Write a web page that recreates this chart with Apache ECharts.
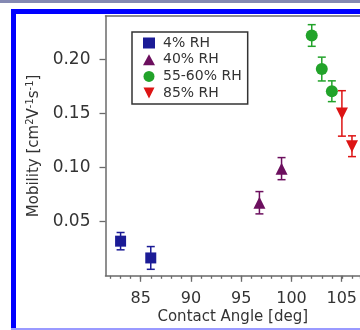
<!DOCTYPE html>
<html>
<head>
<meta charset="utf-8">
<script src="https://cdn.jsdelivr.net/npm/echarts@6/dist/echarts.min.js"></script>
<style>
html, body { margin: 0; padding: 0; background: #fff; }
#chart { width: 360px; height: 330px; }
</style>
</head>
<body>
<div id="chart"></div>
<script>
// 各湿度下的数据：接触角、迁移率、误差
const names = ['4% RH', '40% RH', '55-60% RH', '85% RH']
const angle4 = [83, 86]
const mob4 = [0.032, 0.0165]
const err4 = [0.008, 0.0105]
const angle40 = [96.8, 99]
const mob40 = [0.0675, 0.099]
const err40 = [0.0103, 0.0102]
const angle55 = [102, 103, 104]
const mob55 = [0.222, 0.191, 0.1705]
const err55 = [0.010, 0.011, 0.0096]
const angle85 = [105, 106]
const mob85 = [0.150, 0.1197]
const err85 = [0.021, 0.0096]
// 刻度
const xTicks = [85, 90, 95, 100, 105]
const yTicks = [0.05, 0.10, 0.15, 0.20]

const font = 'DejaVu Sans'
const axisGray = '#6a6a6a'
const textGray = '#333'

// 坐标范围 (主绘图区一直延伸到画布右边)
const gridLeft = 105.5
const pxPerDeg = 10.06
const xMin = 81.5
const xMax = xMin + (360 - gridLeft) / pxPerDeg
const gridTop = 16
const gridBottom = 54.2
const yMin = 0
const yMax = 0.24
const pxPerUnit = (330 - gridTop - gridBottom) / (yMax - yMin)

function pack(xs, ys) {
    return xs.map((x, i) => [x, ys[i]])
}
function packErr(xs, ys, es) {
    return xs.map((x, i) => [x, ys[i], es[i]])
}

// 误差棒
function errorSeries(name, data, color) {
    return {
        type: 'custom',
        name: name + ' err',
        xAxisIndex: 0,
        yAxisIndex: 0,
        data: data,
        z: 1,
        renderItem: (params, api) => {
            const x = api.value(0)
            const y = api.value(1)
            const e = api.value(2)
            const top = api.coord([x, y + e])
            const bot = api.coord([x, y - e])
            const w = 4
            const style = { stroke: color, lineWidth: 1.5 }
            return {
                type: 'group',
                children: [
                    { type: 'line', shape: { x1: top[0], y1: top[1], x2: bot[0], y2: bot[1] }, style: style },
                    { type: 'line', shape: { x1: top[0] - w, y1: top[1], x2: top[0] + w, y2: top[1] }, style: style },
                    { type: 'line', shape: { x1: bot[0] - w, y1: bot[1], x2: bot[0] + w, y2: bot[1] }, style: style }
                ]
            }
        }
    }
}

function pointSeries(name, data, color, symbol, size) {
    return {
        type: 'scatter',
        name: name,
        xAxisIndex: 0,
        yAxisIndex: 0,
        data: data,
        symbol: symbol,
        symbolSize: size,
        itemStyle: { color: color, opacity: 1 },
        z: 2
    }
}

const colors = ['#1b1b96', '#6c0f5e', '#22a32a', '#dd1414']
const downTri = 'path://M0,0L10,0L5,10Z'
const frameLine = { show: true, lineStyle: { color: axisGray, width: 1.5 } }

const chart = echarts.init(document.getElementById('chart'))
const option = {
    animation: false,
    backgroundColor: '#fff',
    graphic: [
        { type: 'rect', shape: { x: 0, y: 0, width: 360, height: 3 }, style: { fill: '#8489b3' } },
        { type: 'rect', shape: { x: 11, y: 9, width: 5, height: 321 }, style: { fill: '#0000ff' } },
        { type: 'rect', shape: { x: 11, y: 9, width: 349, height: 5 }, style: { fill: '#0000ff' } },
        { type: 'rect', shape: { x: 11, y: 328, width: 349, height: 2 }, style: { fill: '#9a9aff' } }
    ],
    grid: [
        // 主绘图区
        { left: gridLeft, right: 0, top: gridTop, bottom: gridBottom },
        // x 小刻度
        { left: gridLeft + (82 - xMin) * pxPerDeg, right: 0, top: gridTop, bottom: gridBottom },
        // x 大刻度和标签
        { left: gridLeft + (xTicks[0] - xMin) * pxPerDeg, right: 0, top: gridTop, bottom: gridBottom },
        // y 刻度和标签
        {
            left: gridLeft, right: 0,
            top: gridTop + (yMax - yTicks[yTicks.length - 1]) * pxPerUnit,
            bottom: gridBottom + (yTicks[0] - yMin) * pxPerUnit
        }
    ],
    legend: {
        data: names,
        orient: 'vertical',
        left: 132,
        top: 32,
        padding: [4, 6, 4, 11],
        itemGap: 2.7,
        itemWidth: 12,
        itemHeight: 11,
        borderColor: '#333',
        borderWidth: 1.5,
        textStyle: { fontFamily: font, fontSize: 14, color: textGray, padding: [0, 0, 0, 3] }
    },
    xAxis: [
        {
            gridIndex: 0, type: 'value', min: xMin, max: xMax,
            axisLine: frameLine, axisTick: { show: false }, axisLabel: { show: false }, splitLine: { show: false },
            name: 'Contact Angle [deg]',
            nameLocation: 'middle',
            nameGap: 34,
            nameTextStyle: { fontFamily: font, fontSize: 15, color: textGray }
        },
        {
            gridIndex: 1, type: 'value', min: 82, max: xMax, interval: 1,
            axisLine: { show: false },
            axisTick: { length: 3, lineStyle: { color: axisGray, width: 1.3 } },
            axisLabel: { show: false }, splitLine: { show: false }
        },
        {
            gridIndex: 2, type: 'value', min: xTicks[0], max: xMax, interval: 5,
            axisLine: { show: false },
            axisTick: { length: 6, lineStyle: { color: axisGray, width: 1.3 } },
            axisLabel: {
                margin: 15, showMaxLabel: false,
                fontFamily: font, fontSize: 16, color: textGray,
                formatter: v => xTicks.indexOf(v) >= 0 ? String(v) : ''
            },
            splitLine: { show: false }
        },
        { gridIndex: 3, type: 'value', show: false, min: 0, max: 1 },
        // 上框线
        {
            gridIndex: 0, type: 'value', position: 'top', min: xMin, max: xMax,
            axisLine: frameLine, axisTick: { show: false }, axisLabel: { show: false }, splitLine: { show: false }
        }
    ],
    yAxis: [
        {
            gridIndex: 0, type: 'value', min: yMin, max: yMax,
            axisLine: frameLine, axisTick: { show: false }, axisLabel: { show: false }, splitLine: { show: false },
            name: 'Mobility [cm{sup|2}V{sup|-1}s{sup|-1}]',
            nameLocation: 'middle',
            nameGap: 62,
            nameTextStyle: {
                fontFamily: font, fontSize: 15, color: textGray, lineHeight: 18,
                rich: {
                    sup: { fontFamily: font, fontSize: 10, color: textGray, verticalAlign: 'top', lineHeight: 18 }
                }
            }
        },
        { gridIndex: 1, type: 'value', show: false, min: 0, max: 1 },
        { gridIndex: 2, type: 'value', show: false, min: 0, max: 1 },
        {
            gridIndex: 3, type: 'value', min: yTicks[0], max: yTicks[yTicks.length - 1], interval: 0.05,
            axisLine: { show: false },
            axisTick: { length: 6, lineStyle: { color: axisGray, width: 1.3 } },
            axisLabel: {
                margin: 15, fontFamily: font, fontSize: 17, color: textGray,
                formatter: v => v.toFixed(2)
            },
            splitLine: { show: false }
        }
    ],
    series: [
        errorSeries(names[0], packErr(angle4, mob4, err4), colors[0]),
        errorSeries(names[1], packErr(angle40, mob40, err40), colors[1]),
        errorSeries(names[2], packErr(angle55, mob55, err55), colors[2]),
        errorSeries(names[3], packErr(angle85, mob85, err85), colors[3]),
        pointSeries(names[0], pack(angle4, mob4), colors[0], 'rect', 11),
        pointSeries(names[1], pack(angle40, mob40), colors[1], 'triangle', 12),
        pointSeries(names[2], pack(angle55, mob55), colors[2], 'circle', 12),
        pointSeries(names[3], pack(angle85, mob85), colors[3], downTri, 12)
    ]
}
chart.setOption(option)
</script>
</body>
</html>
